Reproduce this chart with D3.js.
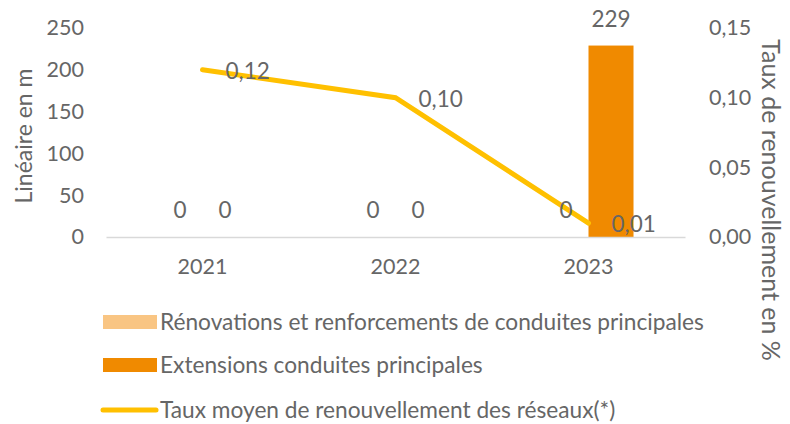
<!DOCTYPE html>
<html><head><meta charset="utf-8">
<script src="https://cdn.jsdelivr.net/npm/d3@7"></script>
<style>body{margin:0;background:#fff}svg text{font-family:Lato,"Open Sans",sans-serif;fill:#666}</style>
</head><body><svg id="c" width="790" height="424"></svg>
<script>
const categories = ["2021","2022","2023"];
const renovations = [0,0,0];
const extensions = [0,0,229];
const taux = [0.12,0.10,0.01];
const leftTicks = [0,50,100,150,200,250];
const rightTicks = [0,0.05,0.10,0.15];
const seriesNames = ["Rénovations et renforcements de conduites principales","Extensions conduites principales","Taux moyen de renouvellement des réseaux(*)"];
const colors = ["#F9C583","#F08A00","#FFC000"];

const svg = d3.select("#c");
const m = {l:106, r:685, t:28, b:237};
const fs = 21.5;
const x = d3.scaleBand().domain(categories).range([m.l,m.r]).padding(0);
const sub = d3.scaleBand().domain([0,1]).range([0,x.bandwidth()]).paddingInner(0).paddingOuter(1.144);
const yL = d3.scaleLinear().domain([0,250]).range([m.b,m.t]);
const yR = d3.scaleLinear().domain([0,0.15]).range([m.b,m.t]);
const fmt = d3.format(".2f");
const fr = v => fmt(v).replace(".",",");

// bars
const barData = [renovations, extensions];
barData.forEach((vals,si)=>{
  svg.append("g").selectAll("rect").data(vals).join("rect")
    .attr("x",(d,i)=>x(categories[i])+sub(si)).attr("width",sub.bandwidth())
    .attr("y",d=>yL(d)).attr("height",d=>yL(0)-yL(d)).attr("fill",colors[si]);
});
// axis line
const ax = svg.append("g").attr("transform",`translate(0,${m.b})`).call(d3.axisBottom(x).tickSize(0).tickPadding(22));
ax.select(".domain").attr("stroke","#d9d9d9").attr("stroke-width",1.5);
ax.selectAll("text").attr("font-size",fs).attr("fill","#666").attr("font-family","Lato");

// left axis
const al = svg.append("g").attr("transform",`translate(84,0)`).call(d3.axisLeft(yL).tickValues(leftTicks).tickSize(0).tickPadding(0));
al.select(".domain").remove();
al.selectAll("text").attr("font-size",fs).attr("fill","#666").attr("font-family","Lato");
// right axis
const ar = svg.append("g").attr("transform",`translate(709,0)`).call(d3.axisRight(yR).tickValues(rightTicks).tickSize(0).tickPadding(0).tickFormat(fr));
ar.select(".domain").remove();
ar.selectAll("text").attr("font-size",fs).attr("fill","#666").attr("font-family","Lato");

// line
const pts = taux.map((v,i)=>[x(categories[i])+x.bandwidth()/2, yR(v)]);
svg.append("path").attr("d",d3.line()(pts)).attr("fill","none").attr("stroke",colors[2]).attr("stroke-width",5).attr("stroke-linecap","round");

// bar labels
barData.forEach((vals,si)=>{
  svg.append("g").selectAll("text").data(vals).join("text")
    .attr("x",(d,i)=>x(categories[i])+sub(si)+sub.bandwidth()/2).attr("y",d=>yL(d)-19)
    .attr("text-anchor","middle").attr("font-size",22.5).text(d=>d);
});
// line labels
svg.append("g").selectAll("text").data(taux).join("text")
  .attr("x",(d,i)=>pts[i][0]+23).attr("y",(d,i)=>pts[i][1]+1).attr("dy","0.35em")
  .attr("font-size",22.5).text(d=>fr(d));

// axis titles
svg.append("text").attr("transform",`translate(32,136) rotate(-90)`).attr("text-anchor","middle").attr("font-size",23).text("Linéaire en m");
svg.append("text").attr("transform",`translate(762,200) rotate(90)`).attr("text-anchor","middle").attr("font-size",25).text("Taux de renouvellement en %");

// legend
const lg = svg.append("g");
const rows = [322,365,410];
seriesNames.forEach((n,i)=>{
  if(i<2) lg.append("rect").attr("x",103).attr("y",rows[i]-7).attr("width",54).attr("height",14).attr("fill",colors[i]);
  else lg.append("line").attr("x1",103).attr("x2",156).attr("y1",rows[i]).attr("y2",rows[i]).attr("stroke",colors[i]).attr("stroke-width",5).attr("stroke-linecap","round");
  lg.append("text").attr("x",160).attr("y",rows[i]).attr("dy","0.35em").attr("font-size",22.7).text(n);
});
</script></body></html>
